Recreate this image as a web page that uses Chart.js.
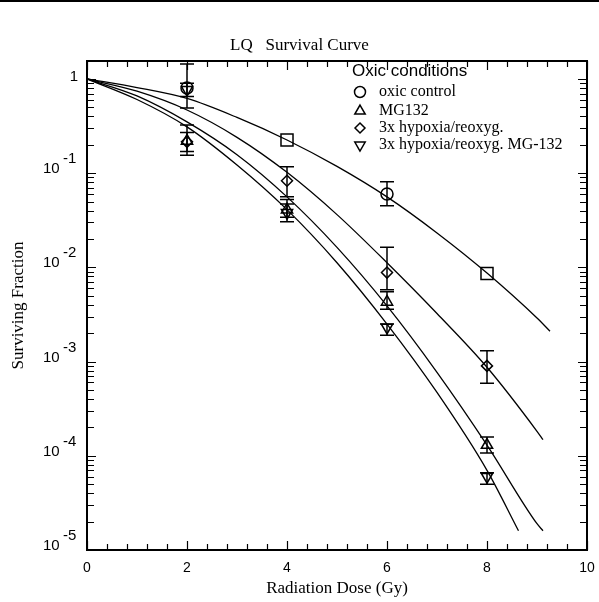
<!DOCTYPE html>
<html>
<head>
<meta charset="utf-8">
<script src="https://cdn.jsdelivr.net/npm/chart.js@4.4.0/dist/chart.umd.min.js"></script>
<style>
  html, body { margin: 0; padding: 0; background: #fff; }
  #wrap { position: relative; width: 599px; height: 602px; }
  #topline { position: absolute; left: 0; top: 0; width: 599px; height: 2px; background: #000; }
</style>
</head>
<body>
<div id="wrap">
  <canvas id="chart" width="599" height="602"></canvas>
  <div id="topline"></div>
</div>
<script>
// measured doses (Gy)
const doses = [2, 4, 6, 8];

// surviving fractions with error bar ends (null = no visible bar)
const oxicControl     = [0.80, 0.225, 0.06, 0.0086];
const oxicControlLow  = [0.65, null, 0.045, null];
const oxicControlHigh = [1.44, null, 0.081, null];

const mg132     = [0.22, 0.041, 0.0043, 0.00013];
const mg132Low  = [0.155, 0.034, 0.0036, 0.000107];
const mg132High = [0.27, 0.0525, 0.0055, 0.000158];

const hypoxia     = [0.215, 0.083, 0.0088, 0.0009];
const hypoxiaLow  = [0.17, 0.056, 0.0058, 0.00059];
const hypoxiaHigh = [0.325, 0.117, 0.0163, 0.0013];

const hypoxiaMg     = [0.77, 0.038, 0.0023, 0.00006];
const hypoxiaMgLow  = [0.49, 0.0305, 0.0019, 0.00005];
const hypoxiaMgHigh = [0.90, 0.047, 0.0025, 0.000066];

// fitted LQ curves
const fitDose1 = [0, 1, 2, 3, 4, 5, 6, 7, 8, 9, 9.26];
const fitOxic  = [1, 0.81, 0.62, 0.39, 0.225, 0.118, 0.056, 0.0232, 0.0087, 0.0029, 0.0021];
const fitDose2 = [0, 1, 2, 3, 4, 5, 6, 7, 8, 9, 9.12];
const fitHypoxia = [1, 0.741, 0.468, 0.240, 0.102, 0.0363, 0.0112, 0.00324, 0.00087, 0.000182, 0.000148];
const fitDose3 = [0, 1, 2, 3, 4, 5, 6, 7, 8, 9, 9.12];
const fitMg132 = [1, 0.66, 0.35, 0.157, 0.056, 0.0163, 0.0039, 0.00077, 0.00013, 0.000019, 0.000016];
const fitDose4 = [0, 1, 2, 3, 4, 5, 6, 7, 8, 8.63];
const fitHypoxiaMg = [1, 0.605, 0.31, 0.122, 0.041, 0.0112, 0.0025, 0.00047, 0.00007, 0.000016];

const xLabels = ['0', '2', '4', '6', '8', '10'];
const yDecades = [1, 0.1, 0.01, 0.001, 0.0001, 0.00001];
const yExponents = ['', '-1', '-2', '-3', '-4', '-5'];

const legendTitle = 'Oxic conditions';
const seriesNames = ['oxic control', 'MG132', '3x hypoxia/reoxyg.', '3x hypoxia/reoxyg. MG-132'];

const markerSeries = [
  { name: seriesNames[0], values: oxicControl, low: oxicControlLow, high: oxicControlHigh,
    style: ['circle', 'rect', 'circle', 'rect'], radius: [6, 8.5, 6, 8.5],
    legendStyle: 'circle', legendRadius: 5.5, rotation: 0 },
  { name: seriesNames[1], values: mg132, low: mg132Low, high: mg132High,
    style: 'triangle', radius: 6.5, legendStyle: 'triangle', legendRadius: 6, rotation: 0 },
  { name: seriesNames[2], values: hypoxia, low: hypoxiaLow, high: hypoxiaHigh,
    style: 'rectRot', radius: 5.5, legendStyle: 'rectRot', legendRadius: 5, rotation: 0 },
  { name: seriesNames[3], values: hypoxiaMg, low: hypoxiaMgLow, high: hypoxiaMgHigh,
    style: 'triangle', radius: 6.5, legendStyle: 'triangle', legendRadius: 6, rotation: 180 }
];

const fits = [
  [fitDose1, fitOxic], [fitDose2, fitHypoxia], [fitDose3, fitMg132], [fitDose4, fitHypoxiaMg]
];

const SANS = '"Liberation Sans", Arial, sans-serif';
const SERIF = '"Liberation Serif", "Times New Roman", serif';

const datasets = [];
fits.forEach(f => {
  datasets.push({
    type: 'line',
    data: f[0].map((d, i) => ({ x: d, y: f[1][i] })),
    borderColor: '#000',
    borderWidth: 1.3,
    pointRadius: 0,
    fill: false,
    cubicInterpolationMode: 'monotone'
  });
});
markerSeries.forEach(s => {
  datasets.push({
    type: 'scatter',
    label: s.name,
    data: doses.map((d, i) => ({ x: d, y: s.values[i] })),
    pointStyle: s.style,
    pointRadius: s.radius,
    pointRotation: s.rotation,
    pointBorderColor: '#000',
    pointBackgroundColor: 'rgba(0,0,0,0)',
    pointBorderWidth: 1.5,
    showLine: false
  });
});

function drawMarker(ctx, style, radius, rotation, x, y) {
  ctx.save();
  ctx.fillStyle = 'rgba(0,0,0,0)';
  ctx.strokeStyle = '#000';
  ctx.lineWidth = 1.5;
  Chart.helpers.drawPoint(ctx, { pointStyle: style, radius: radius, rotation: rotation, borderWidth: 1.5 }, x, y);
  ctx.restore();
}

const decorPlugin = {
  id: 'decor',
  afterDatasetsDraw(chart) {
    const { ctx, chartArea: a, scales: { x, y } } = chart;
    ctx.save();
    ctx.strokeStyle = '#000';
    ctx.fillStyle = '#000';

    // error bars
    ctx.lineWidth = 1.5;
    markerSeries.forEach(s => {
      doses.forEach((d, i) => {
        if (s.low[i] == null) return;
        const px = Math.round(x.getPixelForValue(d));
        const yl = y.getPixelForValue(s.low[i]);
        const yh = y.getPixelForValue(s.high[i]);
        ctx.beginPath();
        ctx.moveTo(px, yl); ctx.lineTo(px, yh);
        ctx.moveTo(px - 7, yl); ctx.lineTo(px + 7, yl);
        ctx.moveTo(px - 7, yh); ctx.lineTo(px + 7, yh);
        ctx.stroke();
      });
    });

    // frame
    ctx.lineWidth = 2;
    ctx.strokeRect(a.left, a.top, a.right - a.left, a.bottom - a.top);

    // inward ticks, x
    ctx.lineWidth = 1.2;
    ctx.beginPath();
    for (let v = 0; v <= 10.001; v += 0.4) {
      const px = Math.round(x.getPixelForValue(v)) + 0.5;
      const major = Math.abs(v / 2 - Math.round(v / 2)) < 0.01;
      const len = major ? 9 : 6;
      ctx.moveTo(px, a.bottom); ctx.lineTo(px, a.bottom - len);
      ctx.moveTo(px, a.top); ctx.lineTo(px, a.top + len);
    }
    // inward ticks, y (log)
    for (let e = -5; e <= 0; e++) {
      for (let m = 1; m <= 9; m++) {
        const v = m * Math.pow(10, e);
        if (v > y.max) continue;
        const py = Math.round(y.getPixelForValue(v)) + 0.5;
        const len = m === 1 ? 9 : 7;
        ctx.moveTo(a.left, py); ctx.lineTo(a.left + len, py);
        ctx.moveTo(a.right, py); ctx.lineTo(a.right - len, py);
      }
    }
    ctx.stroke();

    // y tick labels with superscripts
    ctx.font = '15px ' + SANS;
    ctx.textBaseline = 'middle';
    yDecades.forEach((v, i) => {
      const py = y.getPixelForValue(v);
      if (yExponents[i] === '') {
        ctx.textAlign = 'right';
        ctx.fillText('1', 78, py - 2);
      } else {
        ctx.textAlign = 'left';
        ctx.fillText('10', 43, py - 4);
        ctx.fillText(yExponents[i], 63, py - 14);
      }
    });

    // legend
    ctx.textAlign = 'left';
    ctx.font = '17px ' + SANS;
    ctx.fillText(legendTitle, 352, 71);
    ctx.font = '16px ' + SERIF;
    const rows = [92, 111, 128, 145];
    markerSeries.forEach((s, i) => {
      drawMarker(ctx, s.legendStyle, s.legendRadius, s.rotation, 360, rows[i]);
      ctx.fillText(s.name, 379, rows[i]);
    });
    ctx.restore();
  }
};

new Chart(document.getElementById('chart'), {
  data: { datasets: datasets },
  options: {
    responsive: false,
    animation: false,
    layout: { padding: 0 },
    plugins: {
      legend: { display: false },
      tooltip: { enabled: false },
      title: {
        display: true,
        text: 'LQ   Survival Curve',
        color: '#000',
        font: { family: SERIF, size: 17, weight: 'normal' },
        padding: { top: 35, bottom: 5.6 }
      }
    },
    scales: {
      x: {
        type: 'linear',
        min: 0, max: 10,
        grid: { display: false, drawTicks: false },
        border: { display: false },
        ticks: {
          stepSize: 2,
          padding: 10,
          color: '#000',
          font: { family: SANS, size: 14 },
          callback: (v) => xLabels[Math.round(v / 2)]
        },
        title: {
          display: true,
          text: 'Radiation Dose (Gy)',
          color: '#000',
          font: { family: SERIF, size: 17 },
          padding: { top: 0, bottom: 3 }
        },
        afterFit: (s) => { s.height = 52; s.paddingLeft = 0; s.paddingRight = 12; }
      },
      y: {
        type: 'logarithmic',
        min: 0.00001, max: 1.55,
        grid: { display: false, drawTicks: false },
        border: { display: false },
        ticks: { display: false },
        title: {
          display: true,
          text: 'Surviving Fraction',
          color: '#000',
          font: { family: SERIF, size: 17 },
          padding: { top: 8, bottom: 0 }
        },
        afterFit: (s) => { s.width = 87; }
      }
    }
  },
  plugins: [decorPlugin]
});
</script>
</body>
</html>
